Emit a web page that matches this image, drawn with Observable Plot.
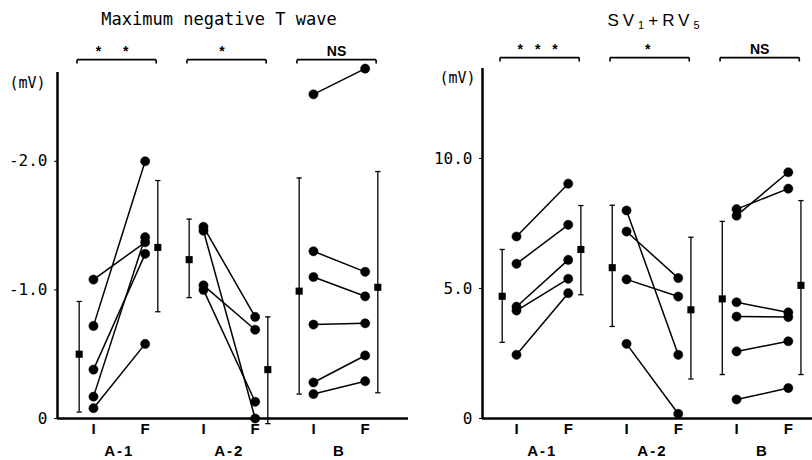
<!DOCTYPE html>
<html><head><meta charset="utf-8">
<script src="https://cdn.jsdelivr.net/npm/d3@7"></script>
<script src="https://cdn.jsdelivr.net/npm/@observablehq/plot@0.6"></script>
<style>
body{margin:0;background:#fff;}
#row{display:flex;width:812px;height:460px;overflow:hidden;}
#row svg{display:block;}
</style></head><body><div id="row"></div>
<script>
const groups = ["A-1", "A-2", "B"];
const timeLabels = ["I", "F"];

// Maximum negative T wave (mV, plotted as magnitude, labelled negative)
const tA1I = [1.08, 0.72, 0.38, 0.17, 0.08];
const tA1F = [1.37, 2.00, 1.28, 1.41, 0.58];
const tA2I = [1.49, 1.46, 1.035, 1.00];
const tA2F = [0.79, 0.00, 0.69, 0.13];
const tBI = [2.52, 1.30, 1.10, 0.73, 0.28, 0.19];
const tBF = [2.72, 1.14, 0.95, 0.74, 0.49, 0.29];
const tMeanI = [0.50, 1.235, 0.99];
const tLowI = [0.05, 0.94, 0.19];
const tHighI = [0.91, 1.55, 1.87];
const tMeanF = [1.33, 0.38, 1.02];
const tLowF = [0.83, -0.04, 0.20];
const tHighF = [1.85, 0.79, 1.92];
const tSig = ["* *", "*", "NS"];
const tTicks = [0, 1, 2];
const tTickLabels = ["0", "-1.0", "-2.0"];

// SV1 + RV5 (mV)
const sA1I = [7.00, 5.95, 4.30, 4.15, 2.45];
const sA1F = [9.03, 7.45, 6.10, 5.37, 4.82];
const sA2I = [8.00, 7.19, 5.35, 2.87];
const sA2F = [2.45, 5.40, 4.69, 0.18];
const sBI = [8.05, 7.80, 4.47, 3.92, 2.58, 0.73];
const sBF = [8.84, 9.47, 4.08, 3.90, 2.97, 1.17];
const sMeanI = [4.70, 5.80, 4.60];
const sLowI = [2.93, 3.54, 1.69];
const sHighI = [6.50, 8.20, 7.58];
const sMeanF = [6.50, 4.18, 5.12];
const sLowF = [4.76, 1.52, 1.69];
const sHighF = [8.19, 6.97, 8.38];
const sSig = ["* * *", "*", "NS"];
const sTicks = [0, 5, 10];
const sTickLabels = ["0", "5.0", "10.0"];

const SEP = 0.47;      // I -> F spacing within a group
const MONO = "'DejaVu Sans Mono', 'Liberation Mono', monospace";
const SANS = "'Liberation Sans', Arial, sans-serif";

function panel(cfg) {
  const pairs = groups.flatMap((g, gi) => cfg.initial[gi].map((v, k) => ({gi, i: v, f: cfg.final[gi][k]})));
  const pts = pairs.flatMap(p => [{x: p.gi, y: p.i}, {x: p.gi + SEP, y: p.f}]);
  const stats = groups.flatMap((g, gi) => [
    {x: gi - 0.13, m: cfg.meanI[gi], lo: cfg.lowI[gi], hi: cfg.highI[gi]},
    {x: gi + SEP + 0.115, m: cfg.meanF[gi], lo: cfg.lowF[gi], hi: cfg.highF[gi]}
  ]);
  const caps = stats.flatMap(s => [{x: s.x, y: s.lo}, {x: s.x, y: s.hi}]);
  const tl = groups.flatMap((g, gi) => [{x: gi, t: timeLabels[0]}, {x: gi + SEP, t: timeLabels[1]}]);
  const gl = groups.map((g, gi) => ({x: gi + SEP / 2, t: g}));
  const br = groups.map((g, gi) => ({x1: gi - 0.15, x2: gi + SEP + 0.1, s: cfg.sig[gi]}));
  const by = cfg.bracketY, bt = cfg.bracketTick;
  const ci = 0.024;
  const svg = Plot.plot({
    width: cfg.width, height: 460,
    marginLeft: cfg.marginLeft, marginRight: cfg.marginRight, marginTop: cfg.marginTop, marginBottom: 42,
    x: {domain: cfg.xDomain, axis: null},
    y: {domain: [0, cfg.yMax], axis: null},
    style: {fontFamily: MONO, background: "#fff", color: "#000", overflow: "visible"},
    marks: [
      Plot.ruleY([0], {stroke: "#000", strokeWidth: 2.5}),
      Plot.ruleX([cfg.xDomain[0]], {y1: 0, y2: cfg.yMax, stroke: "#000", strokeWidth: 2.5}),
      Plot.axisY(cfg.ticks, {tickFormat: d => cfg.tickLabels[cfg.ticks.indexOf(d)], tickSize: 3, tickPadding: cfg.tickPad, fontSize: 16, fontFamily: MONO}),
      Plot.link(pairs, {x1: d => d.gi, x2: d => d.gi + SEP, y1: "i", y2: "f", stroke: "#000", strokeWidth: 1.5}),
      Plot.dot(pts, {x: "x", y: "y", r: 4.6, fill: "#000", stroke: "#000", strokeWidth: 0.5}),
      Plot.ruleX(stats, {x: "x", y1: "lo", y2: "hi", stroke: "#000", strokeWidth: 1.3}),
      Plot.link(caps, {x1: d => d.x - ci, x2: d => d.x + ci, y1: "y", y2: "y", stroke: "#000", strokeWidth: 1.3}),
      Plot.dot(stats, {x: "x", y: "m", symbol: "square", r: 4, fill: "#000"}),
      Plot.link(br, {x1: "x1", x2: "x2", y1: () => by, y2: () => by, stroke: "#000", strokeWidth: 1.6}),
      Plot.link(br, {x1: "x1", x2: "x1", y1: () => by, y2: () => by - bt, stroke: "#000", strokeWidth: 1.6}),
      Plot.link(br, {x1: "x2", x2: "x2", y1: () => by, y2: () => by - bt, stroke: "#000", strokeWidth: 1.6}),
      Plot.text(br, {x: d => (d.x1 + d.x2) / 2, y: () => by, text: "s", dy: -8, fontSize: 14, fontWeight: "bold", fontFamily: SANS}),
      Plot.text(tl, {x: "x", text: "t", frameAnchor: "bottom", lineAnchor: "middle", dy: 11, fontSize: 15, fontWeight: "bold", fontFamily: SANS}),
      Plot.text(gl, {x: "x", text: "t", frameAnchor: "bottom", lineAnchor: "middle", dy: 33, fontSize: 15, fontWeight: "bold", fontFamily: SANS}),
      Plot.text([cfg.title], {frameAnchor: "top", lineAnchor: "middle", dx: cfg.titleDx, dy: cfg.titleDy, fontSize: 17, fontFamily: cfg.titleFont}),
      Plot.text(["(mV)"], {frameAnchor: "top-left", lineAnchor: "middle", textAnchor: "end", dx: cfg.unitDx, dy: cfg.unitDy, fontSize: 15, fontFamily: MONO})
    ]
  });
  d3.select(svg).selectAll("text").each(function () {
    const t = this.textContent;
    const sel = d3.select(this);
    if (t === cfg.title && cfg.titleParts) {
      sel.text(null).style("letter-spacing", "4px");
      for (const [s, sub] of cfg.titleParts) {
        const ts = sel.append("tspan").text(s);
        if (sub) ts.attr("font-size", 11).attr("baseline-shift", "-3");
      }
    }
    if (groups.includes(t)) sel.style("letter-spacing", "2px");
    if (t.includes("*")) sel.style("letter-spacing", cfg.sigSpacing).style("white-space", "pre");
  });
  return svg;
}

const row = document.getElementById("row");
row.append(panel({
  title: "Maximum negative T wave", titleFont: MONO, titleDx: -14, titleDy: -53, titleParts: null,
  sig: tSig, sigSpacing: "9px", initial: [tA1I, tA2I, tBI], final: [tA1F, tA2F, tBF],
  meanI: tMeanI, lowI: tLowI, highI: tHighI, meanF: tMeanF, lowF: tLowF, highF: tHighF,
  ticks: tTicks, tickLabels: tTickLabels, tickPad: 7,
  yMax: 2.69, width: 410, marginLeft: 57, marginRight: 2, marginTop: 72,
  xDomain: [-0.327, 2.864], bracketY: 2.79, bracketTick: 0.03, unitDx: -12, unitDy: 11
}));
row.append(panel({
  title: "SV₁+RV₅", titleFont: SANS, titleDx: 8, titleDy: -48,
  titleParts: [["SV", false], ["1", true], ["+RV", false], ["5", true]],
  sig: sSig, sigSpacing: "4px", initial: [sA1I, sA2I, sBI], final: [sA1F, sA2F, sBF],
  meanI: sMeanI, lowI: sLowI, highI: sHighI, meanF: sMeanF, lowF: sLowF, highF: sHighF,
  ticks: sTicks, tickLabels: sTickLabels, tickPad: 7,
  yMax: 13.46, width: 402, marginLeft: 72, marginRight: 0, marginTop: 68,
  xDomain: [-0.309, 2.69], bracketY: 13.88, bracketTick: 0.15, unitDx: -7, unitDy: 10
}));
</script></body></html>
